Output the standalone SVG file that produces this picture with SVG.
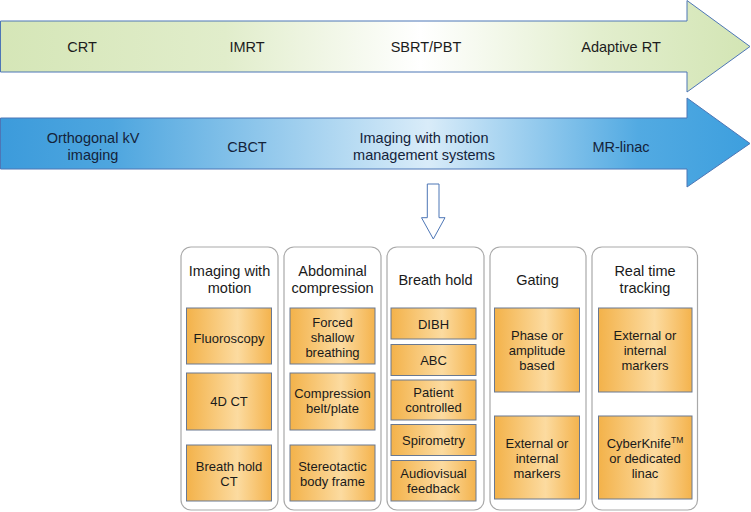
<svg xmlns="http://www.w3.org/2000/svg" width="751" height="512" viewBox="0 0 751 512">
<defs>
<linearGradient id="gGreen" x1="0" y1="0" x2="751" y2="0" gradientUnits="userSpaceOnUse">
<stop offset="0" stop-color="#d5e6b7"/>
<stop offset="0.3" stop-color="#e1edcb"/>
<stop offset="0.56" stop-color="#ffffff"/>
<stop offset="0.8" stop-color="#e2eecd"/>
<stop offset="1" stop-color="#d3e5b4"/>
</linearGradient>
<linearGradient id="gBlue" x1="0" y1="0" x2="751" y2="0" gradientUnits="userSpaceOnUse">
<stop offset="0" stop-color="#3c9bdb"/>
<stop offset="0.15" stop-color="#4ea6df"/>
<stop offset="0.57" stop-color="#d9ecf9"/>
<stop offset="0.85" stop-color="#52aae2"/>
<stop offset="1" stop-color="#3d9fde"/>
</linearGradient>
<linearGradient id="gOrange" x1="0" y1="0" x2="1" y2="0">
<stop offset="0" stop-color="#f3b24a"/>
<stop offset="0.6" stop-color="#fcdba0"/>
<stop offset="1" stop-color="#f4b34d"/>
</linearGradient>
<style>
.arrow{stroke:#4d76b6;stroke-width:1}
.atext{font-family:"Liberation Sans",Arial,sans-serif;font-size:14.5px;fill:#1c1c1c;text-anchor:middle}
.btext{font-family:"Liberation Sans",Arial,sans-serif;font-size:14.5px;fill:#14233a;text-anchor:middle}
.panel{fill:#ffffff;stroke:#a9a9a9;stroke-width:1.2}
.head{font-family:"Liberation Sans",Arial,sans-serif;font-size:14.5px;fill:#1a1a1a;text-anchor:middle}
.box{fill:url(#gOrange);stroke:#6a7890;stroke-width:1}
.bt{font-family:"Liberation Sans",Arial,sans-serif;font-size:13px;fill:#1a1a1a;text-anchor:middle}
</style>
</defs>

<g id="timeline-rt">
<path class="arrow" d="M0.5,21 L687,21 L687,0.5 L750,46.5 L687,92 L687,72 L0.5,72 Z" fill="url(#gGreen)"/>
<text class="atext" x="82" y="51.5">CRT</text>
<text class="atext" x="247" y="51.5">IMRT</text>
<text class="atext" x="426" y="51.5">SBRT/PBT</text>
<text class="atext" x="621" y="51.5">Adaptive RT</text>
</g>

<g id="timeline-imaging">
<path class="arrow" d="M0.5,118 L687,118 L687,98 L750,143.5 L687,187 L687,169 L0.5,169 Z" fill="url(#gBlue)"/>
<text class="btext" x="93" y="142.5">Orthogonal kV</text>
<text class="btext" x="93" y="159.5">imaging</text>
<text class="btext" x="247" y="152">CBCT</text>
<text class="btext" x="424" y="142.5">Imaging with motion</text>
<text class="btext" x="424" y="159.5">management systems</text>
<text class="btext" x="621" y="152">MR-linac</text>
</g>

<g id="connectors">
<path d="M427.3,184 L439,184 L439,217.7 L445,217.7 L433.3,239 L421.5,217.7 L427.3,217.7 Z" fill="#ffffff" stroke="#4d76b6" stroke-width="1"/>
</g>

<g id="col-imaging">
<rect class="panel" x="181" y="247" width="97" height="263" rx="10"/>
<text class="head" x="229.5" y="276">Imaging with</text>
<text class="head" x="229.5" y="293">motion</text>
<rect class="box" x="186.5" y="308" width="85" height="56"/>
<text class="bt" x="229" y="342.5">Fluoroscopy</text>
<rect class="box" x="186.5" y="373" width="85" height="57"/>
<text class="bt" x="229" y="406">4D CT</text>
<rect class="box" x="186.5" y="445" width="85" height="56"/>
<text class="bt" x="229" y="471">Breath hold</text>
<text class="bt" x="229" y="486">CT</text>
</g>

<g id="col-abdominal">
<rect class="panel" x="284" y="247" width="97" height="263" rx="10"/>
<text class="head" x="332.5" y="276">Abdominal</text>
<text class="head" x="332.5" y="293">compression</text>
<rect class="box" x="290" y="308" width="85" height="56"/>
<text class="bt" x="332.5" y="327">Forced</text>
<text class="bt" x="332.5" y="342">shallow</text>
<text class="bt" x="332.5" y="357">breathing</text>
<rect class="box" x="290" y="373" width="85" height="57"/>
<text class="bt" x="332.5" y="398">Compression</text>
<text class="bt" x="332.5" y="413">belt/plate</text>
<rect class="box" x="290" y="445" width="85" height="56"/>
<text class="bt" x="332.5" y="471">Stereotactic</text>
<text class="bt" x="332.5" y="486">body frame</text>
</g>

<g id="col-breath-hold">
<rect class="panel" x="387" y="247" width="97" height="263" rx="10"/>
<text class="head" x="435.5" y="284.5">Breath hold</text>
<rect class="box" x="391" y="308" width="85" height="31"/>
<text class="bt" x="433.5" y="328.5">DIBH</text>
<rect class="box" x="391" y="344.5" width="85" height="31"/>
<text class="bt" x="433.5" y="365">ABC</text>
<rect class="box" x="391" y="380" width="85" height="40"/>
<text class="bt" x="433.5" y="397">Patient</text>
<text class="bt" x="433.5" y="412">controlled</text>
<rect class="box" x="391" y="424.5" width="85" height="31"/>
<text class="bt" x="433.5" y="445">Spirometry</text>
<rect class="box" x="391" y="460.5" width="85" height="40.5"/>
<text class="bt" x="433.5" y="477.5">Audiovisual</text>
<text class="bt" x="433.5" y="492.5">feedback</text>
</g>

<g id="col-gating">
<rect class="panel" x="490" y="247" width="96" height="263" rx="10"/>
<text class="head" x="537.5" y="284.5">Gating</text>
<rect class="box" x="494.5" y="308" width="85" height="84"/>
<text class="bt" x="537" y="340">Phase or</text>
<text class="bt" x="537" y="355">amplitude</text>
<text class="bt" x="537" y="370">based</text>
<rect class="box" x="494.5" y="416" width="85" height="83"/>
<text class="bt" x="537" y="448">External or</text>
<text class="bt" x="537" y="463">internal</text>
<text class="bt" x="537" y="478">markers</text>
</g>

<g id="col-tracking">
<rect class="panel" x="592" y="247" width="105.5" height="263" rx="10"/>
<text class="head" x="645" y="276">Real time</text>
<text class="head" x="645" y="293">tracking</text>
<rect class="box" x="598.5" y="308" width="93.5" height="84"/>
<text class="bt" x="645" y="340">External or</text>
<text class="bt" x="645" y="355">internal</text>
<text class="bt" x="645" y="370">markers</text>
<rect class="box" x="598.5" y="416" width="93.5" height="83"/>
<text class="bt" x="645" y="448">CyberKnife<tspan font-size="8.5px" dy="-5">TM</tspan></text>
<text class="bt" x="645" y="463">or dedicated</text>
<text class="bt" x="645" y="478">linac</text>
</g>
</svg>
